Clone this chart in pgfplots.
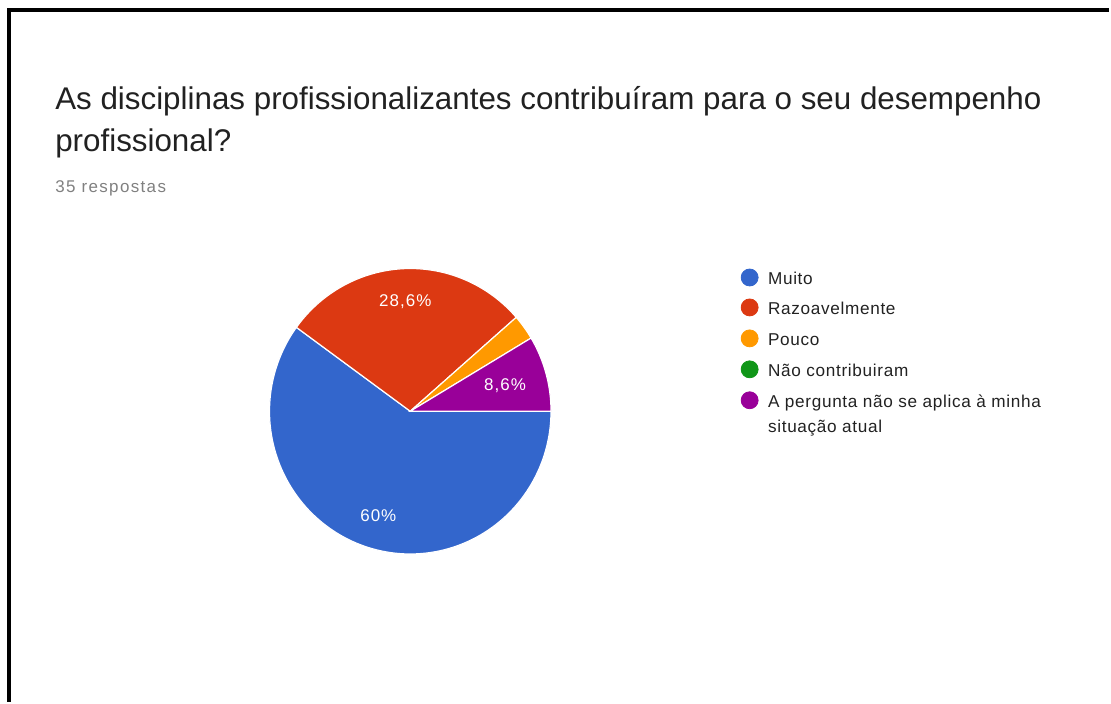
\documentclass[border=0pt]{standalone}
\usepackage{pgfplots}
\pgfplotsset{compat=1.18}
\usepackage{fontspec}
\setmainfont{Liberation Sans}
\definecolor{cMuito}{HTML}{3366CC}
\definecolor{cRazo}{HTML}{DC3912}
\definecolor{cPouco}{HTML}{FF9900}
\definecolor{cNao}{HTML}{109618}
\definecolor{cAplica}{HTML}{990099}
\definecolor{cTitle}{HTML}{212121}
\definecolor{cSub}{HTML}{808080}
\definecolor{cLeg}{HTML}{222222}
% counts (35 respostas)
\def\vA{21}\def\vB{10}\def\vC{1}\def\vD{0}\def\vE{3}\def\vTot{35}
\begin{document}
\begin{tikzpicture}
\begin{axis}[width=555.5pt,height=351.5pt,scale only axis,hide axis,clip=false,
  xmin=0,xmax=1111,ymin=0,ymax=703]
\path (axis cs:0,0) rectangle (axis cs:1111,703);
\pgfmathsetmacro\aA{-360*\vA/\vTot}
\pgfmathsetmacro\aB{\aA-360*\vB/\vTot}
\pgfmathsetmacro\aC{\aB-360*\vC/\vTot}
\pgfmathsetmacro\aD{\aC-360*\vD/\vTot}
\pgfmathsetmacro\aE{\aD-360*\vE/\vTot}
\addplot[fill=cMuito, draw=white, line width=0.6pt, domain=\aA:0, samples=120, variable=\t]
  ({411+141*cos(\t)},{291+143*sin(\t)}) -- (axis cs:411,291) -- cycle;
\addplot[fill=cRazo, draw=white, line width=0.6pt, domain=\aB:\aA, samples=80, variable=\t]
  ({411+141*cos(\t)},{291+143*sin(\t)}) -- (axis cs:411,291) -- cycle;
\addplot[fill=cPouco, draw=white, line width=0.6pt, domain=\aC:\aB, samples=20, variable=\t]
  ({411+141*cos(\t)},{291+143*sin(\t)}) -- (axis cs:411,291) -- cycle;
\addplot[fill=cAplica, draw=white, line width=0.6pt, domain=\aE:\aD, samples=40, variable=\t]
  ({411+141*cos(\t)},{291+143*sin(\t)}) -- (axis cs:411,291) -- cycle;
% slice labels
\node[white, font=\fontsize{8.5pt}{10pt}\selectfont\addfontfeatures{LetterSpace=6}] at (axis cs:379,186) {60\%};
\node[white, font=\fontsize{8.5pt}{10pt}\selectfont\addfontfeatures{LetterSpace=6}] at (axis cs:406,401) {28,6\%};
\node[white, font=\fontsize{8.5pt}{10pt}\selectfont\addfontfeatures{LetterSpace=6}] at (axis cs:506,317) {8,6\%};
% legend markers
\addplot[only marks, mark=*, mark size=4.25pt, color=cMuito] coordinates {(751,425)};
\addplot[only marks, mark=*, mark size=4.25pt, color=cRazo] coordinates {(751,395)};
\addplot[only marks, mark=*, mark size=4.25pt, color=cPouco] coordinates {(751,364)};
\addplot[only marks, mark=*, mark size=4.25pt, color=cNao] coordinates {(751,333)};
\addplot[only marks, mark=*, mark size=4.25pt, color=cAplica] coordinates {(751,302)};
\begin{scope}[every node/.style={anchor=base west, inner sep=0pt, text=cLeg,
   font=\fontsize{8.6pt}{10pt}\selectfont\addfontfeatures{LetterSpace=4}}]
\node at (axis cs:769,418) {Muito};
\node at (axis cs:769,388) {Razoavelmente};
\node at (axis cs:769,357) {Pouco};
\node at (axis cs:769,326) {Não contribuiram};
\node at (axis cs:769,295) {A pergunta não se aplica à minha};
\node at (axis cs:769,270) {situação atual};
\end{scope}
% title
\node[anchor=base west, inner sep=0pt, text=cTitle, font=\fontsize{15.7pt}{18pt}\selectfont] at (axis cs:55,593) {As disciplinas profissionalizantes contribuíram para o seu desempenho};
\node[anchor=base west, inner sep=0pt, text=cTitle, font=\fontsize{15.7pt}{18pt}\selectfont] at (axis cs:55,551) {profissional?};
\node[anchor=base west, inner sep=0pt, text=cSub, font=\fontsize{8.5pt}{10pt}\selectfont\addfontfeatures{LetterSpace=8}] at (axis cs:55,510) {35 respostas};
% frame
\draw[black, line width=2pt] (axis cs:9,0) -- (axis cs:9,693) -- (axis cs:1111,693);
\end{axis}
\end{tikzpicture}
\end{document}
